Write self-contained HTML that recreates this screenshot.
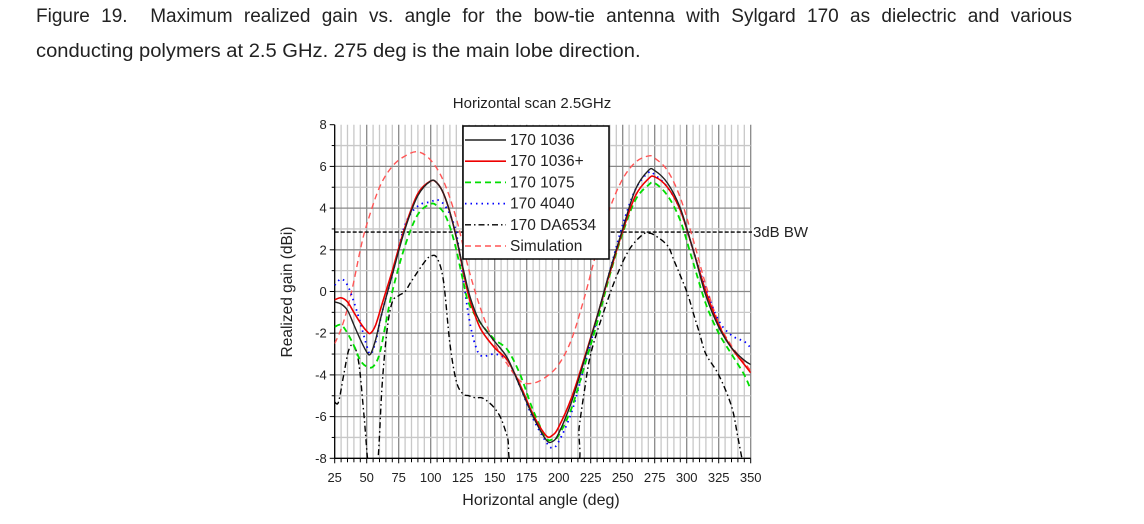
<!DOCTYPE html>
<html><head><meta charset="utf-8"><style>
body{margin:0;background:#fff;width:1144px;height:524px;overflow:hidden;position:relative}
.cap{position:absolute;left:36px;font-family:"Liberation Sans",sans-serif;font-size:19px;color:#222;white-space:nowrap}
</style></head><body>
<div class="cap" style="top:6px;width:1036px;text-align:justify;text-align-last:justify">Figure 19.&nbsp; Maximum realized gain vs. angle for the bow-tie antenna with Sylgard 170 as dielectric and various</div>
<div class="cap" style="top:41px;transform:scaleX(1.06);transform-origin:0 0">conducting polymers at 2.5 GHz. 275 deg is the main lobe direction.</div>
<svg id="s" width="1144" height="524" style="position:absolute;left:0;top:0" font-family="Liberation Sans, sans-serif"></svg>
<script>
const X0=334.7,X1=750.7,Y8=124.7,Ym8=458.3;
const fx=d=>X0+(d-25)*(X1-X0)/325, fy=v=>Y8+(8-v)*(Ym8-Y8)/16;
let h='<defs><clipPath id="c"><rect x="'+X0+'" y="'+Y8+'" width="'+(X1-X0)+'" height="'+(Ym8-Y8)+'"/></clipPath></defs>';
for(let d=30;d<=350;d+=5){const maj=d%25==0;h+=`<line x1="${fx(d)}" x2="${fx(d)}" y1="${Y8}" y2="${Ym8}" stroke="${maj?'#888':'#c8c8c8'}" stroke-width="1.3"/>`;}
for(let v=-7;v<=7;v++){const maj=v%2==0;h+=`<line x1="${X0}" x2="${X1}" y1="${fy(v)}" y2="${fy(v)}" stroke="${maj?'#888':'#c8c8c8'}" stroke-width="1.3"/>`;}
h+=`<line x1="${X0}" x2="${X0}" y1="${Y8}" y2="${Ym8}" stroke="#000" stroke-width="1.3"/><line x1="${X0}" x2="${X1}" y1="${Ym8}" y2="${Ym8}" stroke="#000" stroke-width="1.3"/>`;
for(let d=25;d<=350;d+=5){h+=`<line x1="${fx(d)}" x2="${fx(d)}" y1="${Ym8}" y2="${Ym8+(d%25==0?5:4)}" stroke="#000"/>`;}
for(let d=25;d<=350;d+=25)h+=`<text x="${fx(d)}" y="482" font-size="13" text-anchor="middle" fill="#222">${d}</text>`;
for(let v=-8;v<=8;v++){h+=`<line x1="${X0-(v%2==0?5:3)}" x2="${X0}" y1="${fy(v)}" y2="${fy(v)}" stroke="#000"/>`;if(v%2==0)h+=`<text x="${X0-8}" y="${fy(v)+4.5}" font-size="13" text-anchor="end" fill="#222">${v}</text>`;}
h+=`<line x1="${X0}" x2="752" y1="${fy(2.85)}" y2="${fy(2.85)}" stroke="#000" stroke-dasharray="4,2" stroke-width="1.3"/><text x="753" y="${fy(2.85)+5}" font-size="15" fill="#222">3dB BW</text>`;
h+=`<text x="532" y="108" font-size="15" text-anchor="middle" fill="#222">Horizontal scan 2.5GHz</text>`;
h+=`<text x="541" y="505" font-size="16" text-anchor="middle" fill="#222">Horizontal angle (deg)</text>`;
h+=`<text transform="translate(292,292) rotate(-90)" font-size="15.5" text-anchor="middle" fill="#222">Realized gain (dBi)</text>`;
const S={
k:[[25,-0.5],[30,-0.6],[35,-0.9],[40,-1.6],[45,-2.3],[50,-2.9],[53,-3],[57,-2.3],[62,-1],[70,0.8],[80,3],[90,4.6],[100,5.3],[105,5.2],[110,4.7],[115,3.8],[120,2.6],[125,1.2],[130,-0.1],[135,-1],[140,-1.6],[150,-2.4],[160,-3.2],[170,-4.6],[180,-6],[190,-7.1],[195,-7.2],[200,-6.8],[210,-5.3],[220,-3.3],[230,-1.2],[240,1],[250,3],[260,4.9],[270,5.8],[275,5.8],[285,5.2],[295,4],[305,2],[315,-0.2],[325,-1.7],[335,-2.7],[345,-3.3],[350,-3.5]],
r:[[25,-0.4],[30,-0.3],[35,-0.5],[40,-1],[45,-1.5],[50,-1.9],[53,-2],[57,-1.6],[62,-0.6],[70,1],[80,3.1],[90,4.7],[100,5.3],[105,5.2],[110,4.7],[115,3.8],[120,2.6],[125,1.1],[130,-0.3],[135,-1.2],[140,-1.9],[150,-2.7],[160,-3.3],[170,-4.5],[180,-5.9],[190,-6.9],[195,-6.9],[200,-6.5],[210,-5.1],[220,-3.2],[230,-1.2],[240,0.9],[250,2.9],[260,4.6],[270,5.4],[275,5.5],[285,5],[295,3.9],[305,2],[315,0],[325,-1.6],[335,-2.7],[345,-3.5],[350,-3.9]],
g:[[25,-1.7],[30,-1.6],[35,-2],[40,-2.6],[45,-3.3],[50,-3.6],[55,-3.6],[60,-3],[65,-1.5],[70,0],[80,2.2],[90,3.7],[100,4.2],[105,4.1],[110,3.8],[115,3.1],[120,2],[125,0.6],[130,-0.6],[140,-1.6],[150,-2.3],[160,-2.8],[170,-4],[180,-5.7],[190,-7],[195,-7.1],[200,-6.9],[210,-5.6],[220,-3.6],[230,-1.5],[240,0.8],[250,2.8],[260,4.4],[270,5.1],[275,5.2],[285,4.6],[295,3.4],[305,1.4],[315,-0.6],[325,-2],[335,-3],[345,-4],[350,-4.7]],
b:[[25,0.3],[30,0.6],[35,0.3],[40,-0.5],[45,-1.5],[50,-2.6],[53,-3],[57,-2.4],[62,-1],[70,0.8],[80,3.2],[90,4.1],[100,4.3],[105,4.4],[110,4.2],[115,3.7],[120,2.8],[125,0.8],[130,-1.3],[135,-2.6],[140,-3.1],[150,-3],[160,-3.3],[170,-4.6],[180,-6.1],[190,-7.2],[195,-7.5],[200,-7.2],[210,-5.8],[220,-3.6],[230,-1.3],[240,1],[250,3.2],[260,4.9],[270,5.7],[275,5.6],[285,5],[295,3.9],[305,2],[315,0.1],[325,-1.4],[335,-2.1],[345,-2.4],[350,-2.7]],
d:[[25,-5.3],[28,-5.3],[32,-4],[36,-2.8],[40,-2.6],[44,-3.5],[48,-6],[52,-8.6],[58,-8.6],[62,-4.5],[66,-1.8],[70,-0.5],[75,-0.2],[80,0],[85,0.5],[95,1.4],[100,1.7],[105,1.6],[110,0.5],[115,-2.5],[120,-4.3],[125,-4.9],[130,-5],[135,-5.1],[140,-5.1],[145,-5.3],[150,-5.6],[155,-6.1],[160,-7],[167,-8.6],[212,-8.6],[216,-6.5],[220,-4.8],[225,-3],[235,-1],[245,0.7],[255,2],[265,2.7],[270,2.8],[275,2.7],[285,2.2],[290,1.5],[300,0],[305,-1],[310,-2],[315,-3],[325,-4],[335,-5.5],[340,-7],[345,-8.6]],
s:[[25,-2.5],[30,-1.8],[35,-0.8],[40,0.5],[45,2],[50,3.2],[60,5],[70,6],[80,6.5],[90,6.7],[100,6.3],[110,5.3],[120,3.5],[130,1],[140,-1],[150,-2.5],[160,-3.5],[170,-4.3],[180,-4.4],[190,-4.1],[200,-3.5],[210,-2.3],[220,-0.3],[230,2],[240,4],[250,5.4],[260,6.2],[270,6.5],[275,6.4],[285,5.8],[295,4.5],[305,2.5],[315,0.3],[325,-1.5],[335,-2.6],[345,-3.4],[350,-3.8]]};
function smooth(pts){const P=pts.map(p=>[fx(p[0]),fy(p[1])]);let s='M'+P[0][0].toFixed(1)+','+P[0][1].toFixed(1);
for(let i=0;i<P.length-1;i++){const p0=P[i-1]||P[i],p1=P[i],p2=P[i+1],p3=P[i+2]||p2;
const c1=[p1[0]+(p2[0]-p0[0])/6,p1[1]+(p2[1]-p0[1])/6],c2=[p2[0]-(p3[0]-p1[0])/6,p2[1]-(p3[1]-p1[1])/6];
s+=`C${c1[0].toFixed(1)},${c1[1].toFixed(1)} ${c2[0].toFixed(1)},${c2[1].toFixed(1)} ${p2[0].toFixed(1)},${p2[1].toFixed(1)}`;}return s;}
const st={s:['#f55','6,4',1.4],d:['#000','6,3,1.5,3',1.4],b:['#00f','1.5,4',1.8],g:['#0d0','6,4',1.8],r:['#e00','',1.6],k:['#222','',1.4]};
for(const k of ['s','d','b','g','r','k']){const [c,da,w]=st[k];h+=`<path clip-path="url(#c)" fill="none" stroke="${c}" stroke-width="${w}" ${da?`stroke-dasharray="${da}"`:''} d="${smooth(S[k])}"/>`;}
h+=`<rect x="463" y="126" width="146" height="133" fill="#fff" stroke="#000" stroke-width="1.5"/>`;
const L=[['170 1036','k'],['170 1036+','r'],['170 1075','g'],['170 4040','b'],['170 DA6534','d'],['Simulation','s']];
L.forEach((l,i)=>{const y=140+i*21.2;const [c,da,w]=st[l[1]];h+=`<line x1="465" x2="506" y1="${y}" y2="${y}" stroke="${c}" stroke-width="${w}" ${da?`stroke-dasharray="${da}"`:''}/><text x="510" y="${y+5}" font-size="15.5" fill="#222">${l[0]}</text>`;});
document.getElementById('s').innerHTML=h;
</script>
</body></html>
